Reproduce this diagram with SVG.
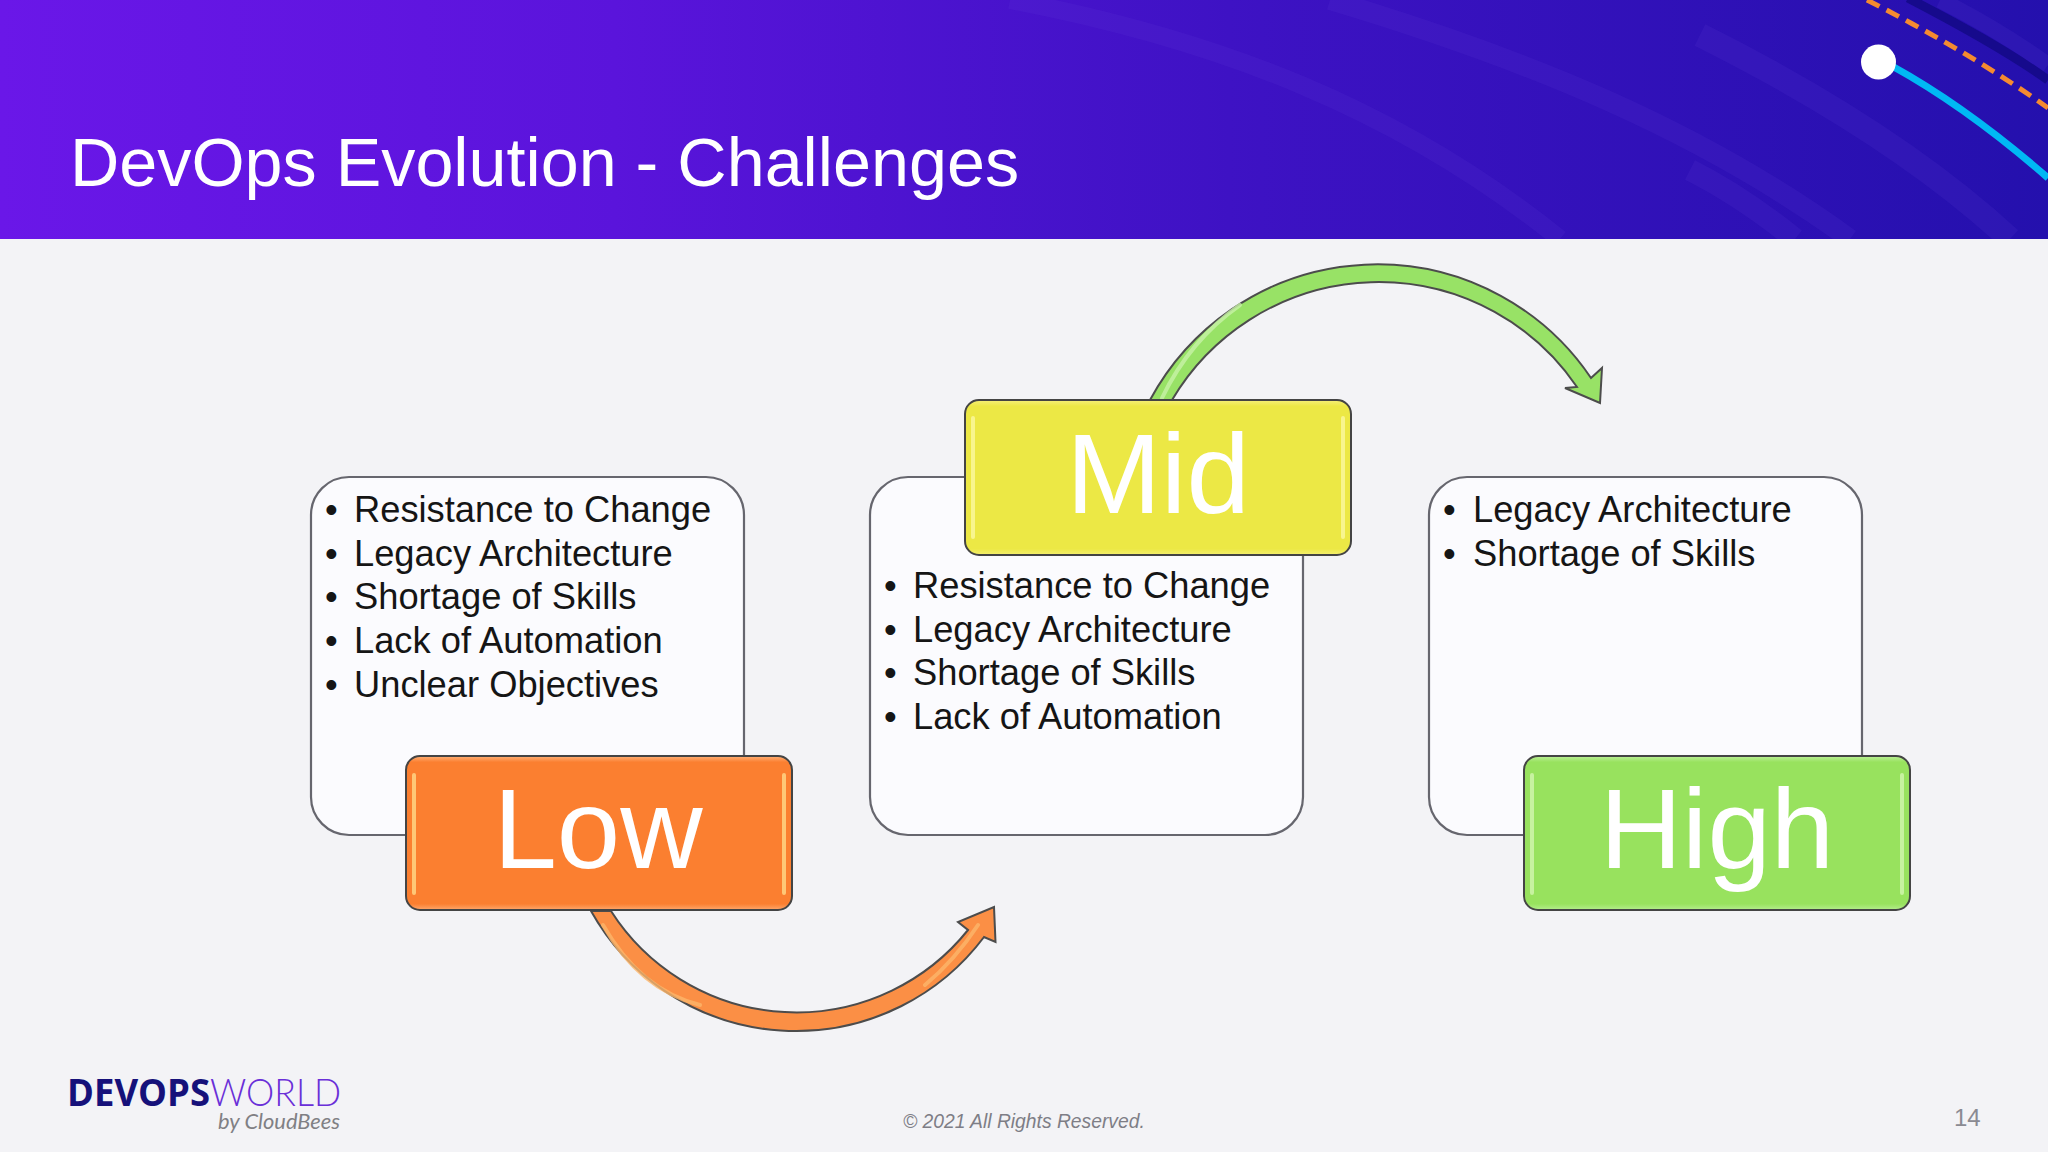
<svg xmlns="http://www.w3.org/2000/svg" width="2048" height="1152" viewBox="0 0 2048 1152">
<style>
.sans{font-family:"Liberation Sans",Arial,sans-serif}
.box{fill:#fbfbfe;stroke:#66666e;stroke-width:2.2}
.item{font-family:"Liberation Sans",Arial,sans-serif;font-size:36.3px;fill:#151515}
.big{font-family:"Liberation Sans",Arial,sans-serif;font-size:114px;fill:#fff;text-anchor:middle}
.edge{stroke:#4c4c4c;stroke-width:2}
.shine{fill:none;stroke-width:4;stroke-linecap:round;stroke-opacity:.8}
.streak{fill:none;stroke:#6a4be0;stroke-opacity:.12}
.pill{stroke:#444;stroke-width:2}
</style>
<defs>
<linearGradient id="hdr" x1="0" y1="0" x2="1" y2="0">
<stop offset="0" stop-color="#6a17e8"/><stop offset=".3" stop-color="#5a14db"/><stop offset=".6" stop-color="#3e12c4"/><stop offset="1" stop-color="#2410ad"/>
</linearGradient>
<clipPath id="hc"><rect width="2048" height="239"/></clipPath>
<linearGradient id="lg" x1="0" y1="0" x2="0" y2="1"><stop offset="0" stop-color="#ffb27a"/><stop offset=".04" stop-color="#fb7f30"/><stop offset=".96" stop-color="#fb7f30"/><stop offset="1" stop-color="#ffa86c"/></linearGradient>
<linearGradient id="mg" x1="0" y1="0" x2="0" y2="1"><stop offset="0" stop-color="#f6f07a"/><stop offset=".04" stop-color="#ece845"/><stop offset=".96" stop-color="#ece845"/><stop offset="1" stop-color="#f4ef70"/></linearGradient>
<linearGradient id="hg" x1="0" y1="0" x2="0" y2="1"><stop offset="0" stop-color="#bdf09a"/><stop offset=".04" stop-color="#98e25e"/><stop offset=".96" stop-color="#98e25e"/><stop offset="1" stop-color="#b5ee8e"/></linearGradient>
</defs>
<rect width="2048" height="1152" fill="#f3f3f6"/>
<g id="header">
<rect width="2048" height="239" fill="url(#hdr)"/>
<g clip-path="url(#hc)">
<path class="streak" stroke-width="24" d="M1700 35C1820 95 1930 165 2010 239"/>
<path class="streak" stroke-width="22" d="M1690 170C1730 190 1765 215 1795 239"/>
<path class="streak" stroke-width="20" d="M1330 0C1530 60 1700 130 1850 239"/>
<path class="streak" stroke-width="18" d="M1010 0C1220 40 1400 110 1560 239"/>
<path class="streak" stroke-width="16" d="M1940 0C1980 20 2020 45 2048 65"/>
<path fill="none" stroke="#160a8c" stroke-width="9" d="M1908 -2C1958 24 2006 50 2048 80"/>
<path fill="none" stroke="#f58a30" stroke-width="5" stroke-dasharray="14 8" d="M1867 0C1930 32 1992 68 2048 108"/>
<path fill="none" stroke="#00b8f4" stroke-width="7" d="M1892 66C1950 98 2000 136 2048 178"/>
</g>
<circle cx="1878.500" cy="62" r="17.500" fill="#fff"/>
<text class="sans" x="70" y="186" font-size="68.300" fill="#fff">DevOps Evolution - Challenges</text>
</g>
<g id="node-low-list">
<rect class="box" x="311" y="477" width="433" height="358" rx="38"/>
<g class="item"><text x="325" y="521.500">•</text><text x="354" y="521.500">Resistance to Change</text>
<text x="325" y="565.500">•</text><text x="354" y="565.500">Legacy Architecture</text>
<text x="325" y="609">•</text><text x="354" y="609">Shortage of Skills</text>
<text x="325" y="653">•</text><text x="354" y="653">Lack of Automation</text>
<text x="325" y="697">•</text><text x="354" y="697">Unclear Objectives</text></g>
</g>
<g id="node-mid-list">
<rect class="box" x="870" y="477" width="433" height="358" rx="38"/>
<g class="item"><text x="884" y="597.500">•</text><text x="913" y="597.500">Resistance to Change</text>
<text x="884" y="641.500">•</text><text x="913" y="641.500">Legacy Architecture</text>
<text x="884" y="685">•</text><text x="913" y="685">Shortage of Skills</text>
<text x="884" y="729">•</text><text x="913" y="729">Lack of Automation</text></g>
</g>
<g id="node-high-list">
<rect class="box" x="1429" y="477" width="433" height="358" rx="38"/>
<g class="item"><text x="1443" y="521.500">•</text><text x="1473" y="521.500">Legacy Architecture</text>
<text x="1443" y="565.500">•</text><text x="1473" y="565.500">Shortage of Skills</text></g>
</g>
<g id="connectors">
<path class="edge" fill="#fb8f45" d="M591 911A235 235 0 0 0 984 937L995.500 942L994 907L958 922L968 930A220 220 0 0 1 611 911Z"/>
<path class="shine" stroke="#fdb56a" d="M603 925Q640 990 700 1005M925 985Q955 960 978 925"/>
<path class="edge" fill="#98e266" d="M1150 400A258 258 0 0 1 1591 378L1602 368L1600 403L1565 388L1577 387A240 240 0 0 0 1172 400Z"/>
<path class="shine" stroke="#c8f2a8" d="M1162 398Q1190 340 1240 305"/>
</g>
<g id="node-low">
<rect class="pill" x="406" y="756" width="386" height="154" rx="14" fill="url(#lg)"/>
<path class="shine" stroke="#ffd98a" d="M414 775V893M784 775V893"/>
<text class="big" x="598" y="868">Low</text>
</g>
<g id="node-mid">
<rect class="pill" x="965" y="400" width="386" height="155" rx="14" fill="url(#mg)"/>
<path class="shine" stroke="#fbf8a0" d="M973 418V537M1343 418V537"/>
<text class="big" x="1158" y="513">Mid</text>
</g>
<g id="node-high">
<rect class="pill" x="1524" y="756" width="386" height="154" rx="14" fill="url(#hg)"/>
<path class="shine" stroke="#d3f6b0" d="M1532 775V893M1902 775V893"/>
<text class="big" x="1717" y="868">High</text>
</g>
<g id="footer">
<text x="67" y="1106" font-family="'Open Sans',sans-serif" font-weight="700" font-size="37" fill="#16117a" textLength="143" lengthAdjust="spacingAndGlyphs">DEVOPS</text>
<text x="210" y="1106" font-family="Lato,sans-serif" font-weight="300" font-size="37" fill="#6a2fd8" textLength="131" lengthAdjust="spacingAndGlyphs">WORLD</text>
<text x="218" y="1129" font-family="Lato,sans-serif" font-style="italic" font-size="21" fill="#808084" textLength="122" lengthAdjust="spacingAndGlyphs">by CloudBees</text>
<text class="sans" x="903" y="1128" font-size="19.300" font-style="italic" fill="#7e7e86">© 2021 All Rights Reserved.</text>
<text class="sans" x="1954" y="1126" font-size="24" fill="#8a8a92">14</text>
</g>
</svg>
